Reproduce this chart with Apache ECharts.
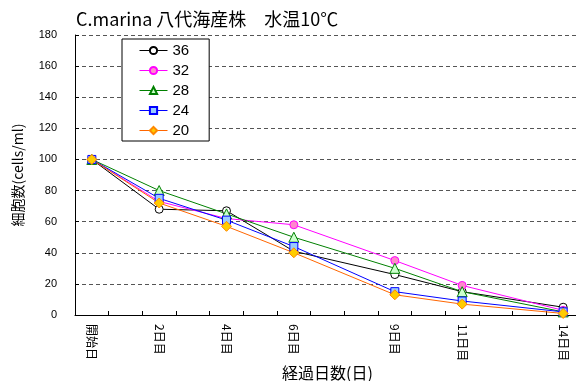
<!DOCTYPE html>
<html>
<head>
<meta charset="utf-8">
<script src="https://cdn.jsdelivr.net/npm/echarts@6/dist/echarts.min.js"></script>
<style>html,body{margin:0;padding:0;background:#fff}#c{width:576px;height:381px}</style>
</head>
<body>
<div id="c"></div>
<script>
const titleText = 'C.marina 八代海産株　水温10℃';
const yName = '細胞数(cells/ml)';
const xName = '経過日数(日)';
const days = [0, 2, 4, 6, 9, 11, 14];
const dayLabels = ['開始日', '2日目', '4日目', '6日目', '9日目', '11日目', '14日目'];
const lastDay = 14;
const seriesNames = ['36', '32', '28', '24', '20'];
const s36 = [100, 68, 67, 41, 26, 15, 5];
const s32 = [100, 73, 62, 58, 35, 19, 3];
const s28 = [100, 80, 65, 50, 30, 15, 2];
const s24 = [100, 75, 61, 44, 15, 9, 2];
const s20 = [100, 72, 57, 40, 13, 7, 1];
const yTicks = [0, 20, 40, 60, 80, 100, 120, 140, 160, 180];

const allValues = [s36, s32, s28, s24, s20];
const styles = [
  {line: '#000000', fill: '#ffffff', border: '#000000', symbol: 'circle', size: 8},
  {line: '#ff00ff', fill: '#ff88cc', border: '#ff00ff', symbol: 'circle', size: 8},
  {line: '#008000', fill: '#ccffcc', border: '#008000', symbol: 'triangle', size: 10},
  {line: '#0000ff', fill: '#99ccff', border: '#0000ff', symbol: 'rect', size: 8},
  {line: '#ff6600', fill: '#ffcc00', border: '#ff8800', symbol: 'diamond', size: 10}
];
const categories = [];
for (let d = 0; d <= lastDay; d++) {
  const i = days.indexOf(d);
  categories.push(i >= 0 ? dayLabels[i] : '');
}
const series = seriesNames.map((n, k) => ({
  name: n,
  type: 'line',
  data: days.map((d, i) => [d, allValues[k][i]]),
  symbol: styles[k].symbol,
  symbolSize: styles[k].size,
  showAllSymbol: true,
  lineStyle: {color: styles[k].line, width: 1},
  itemStyle: {color: styles[k].fill, borderColor: styles[k].border, borderWidth: 1},
  emphasis: {disabled: true},
  animation: false
}));
const chart = echarts.init(document.getElementById('c'), null, {renderer: 'canvas'});
chart.setOption({
  animation: false,
  title: {
    text: titleText, left: 71, top: 5,
    textStyle: {fontFamily: 'Noto Sans CJK JP', fontSize: 18, fontWeight: 'normal', color: '#000'}
  },
  legend: {
    orient: 'vertical', left: 122, top: 39,
    padding: [4, 20, 3, 17],
    itemWidth: 28, itemHeight: 9, itemGap: 5,
    borderColor: '#000', borderWidth: 1, backgroundColor: '#fff',
    lineStyle: {width: 1},
    textStyle: {fontFamily: 'Liberation Sans', fontSize: 15, lineHeight: 14, color: '#000'},
    data: seriesNames
  },
  grid: {left: 75, top: 35, width: 505, height: 280, containLabel: false, outerBoundsMode: 'none'},
  xAxis: {
    type: 'category', data: categories, boundaryGap: true,
    name: xName, nameLocation: 'middle', nameGap: 50, nameMoveOverlap: false,
    nameTextStyle: {fontFamily: 'Noto Sans CJK JP', fontSize: 16, color: '#000'},
    axisLine: {lineStyle: {color: '#000', width: 1}},
    axisTick: {show: true, inside: true, length: 4, alignWithLabel: false, interval: 0, lineStyle: {color: '#000'}},
    axisLabel: {interval: 0, rotate: -90, margin: 9, width: 80, overflow: 'none', hideOverlap: false,
      fontFamily: 'Noto Sans CJK JP', fontSize: 12, color: '#000'},
    splitLine: {show: false}
  },
  yAxis: {
    type: 'value', min: 0, max: 180, interval: 20,
    name: yName, nameLocation: 'middle', nameGap: 50, nameRotate: 90,
    nameTextStyle: {fontFamily: 'Noto Sans CJK JP', fontSize: 14, color: '#000'},
    axisLine: {show: true, lineStyle: {color: '#000', width: 1}},
    axisTick: {show: true, inside: true, length: 4, lineStyle: {color: '#000'}},
    axisLabel: {margin: 18, fontFamily: 'Liberation Sans', fontSize: 11, color: '#000',
      formatter: v => (yTicks.indexOf(v) >= 0 ? String(v) : '')},
    splitLine: {show: true, lineStyle: {color: '#555', type: [4, 3], width: 1}}
  },
  series: series
});
</script>
</body>
</html>
